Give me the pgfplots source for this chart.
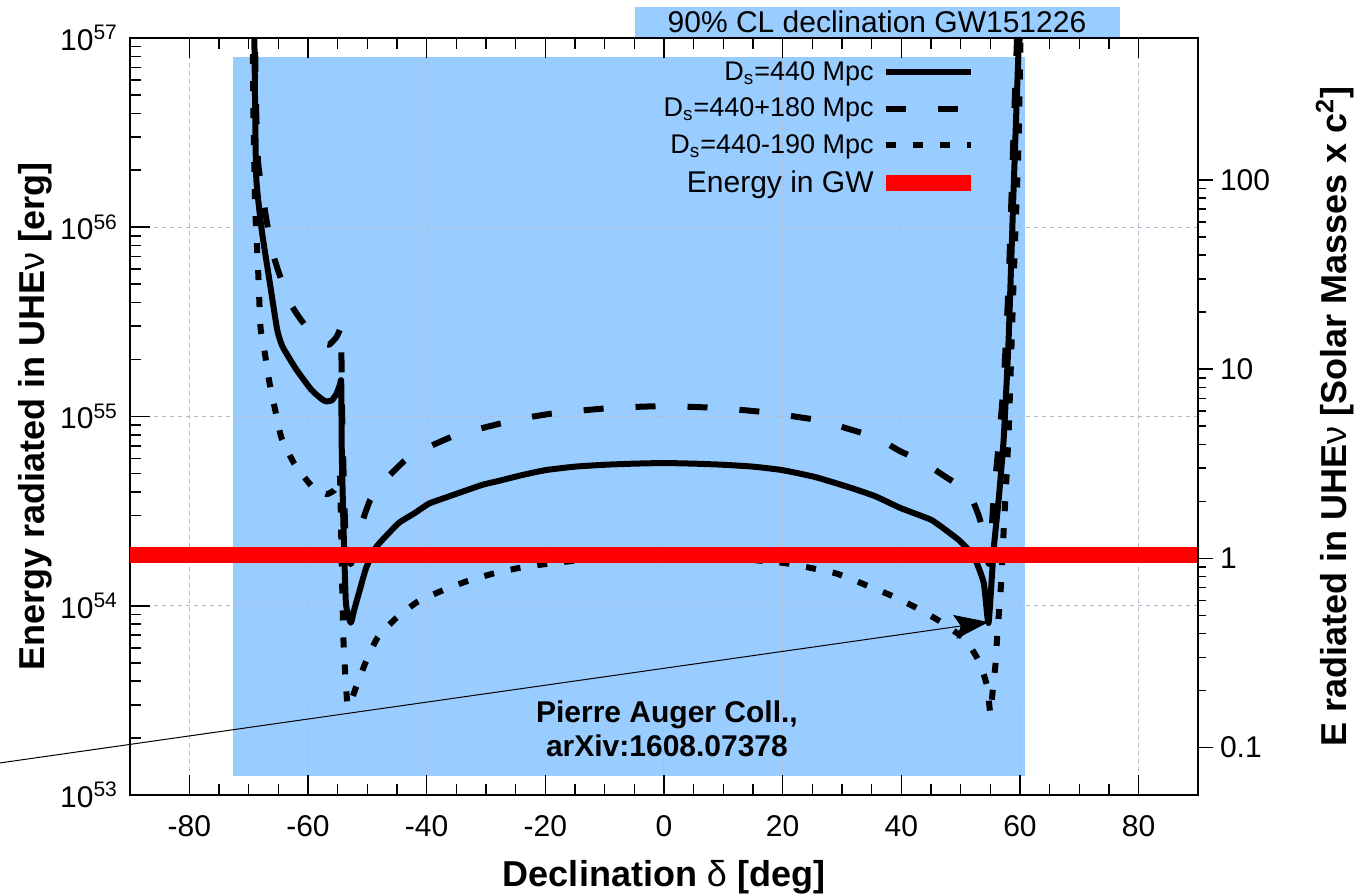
\documentclass[border=0pt]{standalone}
\usepackage{pgfplots}
\pgfplotsset{compat=1.18}
\usepackage{fontspec}
\setmainfont{Liberation Sans}
\usetikzlibrary{arrows.meta}
\definecolor{boxblue}{RGB}{153,204,255}
\definecolor{gridc}{RGB}{180,185,205}
\begin{document}
\begin{tikzpicture}
\begin{axis}[
  at={(0pt,0pt)}, anchor=south west,
  scale only axis, width=534pt, height=378.5pt,
  set layers,
  xmin=-90, xmax=90, ymode=log, ymin=1e53, ymax=1e57,
  xtick={-80,-60,-40,-20,0,20,40,60,80},
  xticklabels={-80,-60,-40,-20,0,20,40,60,80},
  minor x tick num=3,
  ytick={1e53,1e54,1e55,1e56,1e57},
  yticklabels={10\textsuperscript{53},10\textsuperscript{54},10\textsuperscript{55},10\textsuperscript{56},10\textsuperscript{57}},
  ytick pos=left, tick align=inside,
  major tick length=10pt, minor tick length=5.5pt,
  grid=major,
  major grid style={gridc, dash pattern=on 2pt off 2pt, line width=0.5pt},
  axis line style={line width=1.3pt},
  every tick/.style={black, line width=0.8pt},
  tick label style={font=\fontsize{15}{18}\selectfont},
  xticklabel style={yshift=-6.5pt},
  yticklabel style={xshift=-2.5pt},
  xlabel={Declination {\mdseries δ} [deg]},
  ylabel={Energy radiated in UHE{\mdseries ν} [erg]},
  every axis x label/.style={at={(axis description cs:0.5,0)}, anchor=center, yshift=-41pt},
  every axis y label/.style={at={(axis description cs:-0.089,0.5)}, anchor=center, rotate=90},
  label style={font=\bfseries\fontsize{18}{21}\selectfont},
  legend style={at={(axis description cs:0.795,0.975)}, anchor=north east, draw=none, fill=none,
    font=\fontsize{13.5}{16}\selectfont, row sep=3.3pt, inner sep=0pt},
  legend cell align=right, legend plot pos=right,
  legend image code/.code={\draw[#1] (0pt,0pt) -- (42.5pt,0pt);},
]
\addplot[fill=boxblue, draw=none, on layer=axis background, forget plot]
  coordinates {(-72.6,1.259e53) (60.9,1.259e53) (60.9,7.943e56) (-72.6,7.943e56)};

\addplot[black, line width=3pt, line join=round, smooth, tension=0.3] coordinates {
(-69.1,1.585e57) (-68.9,3.981e56) (-68.7,1.778e56) (-67.8,9.66e55) (-66.5,5.248e55)
(-65.2,2.884e55) (-64.3,2.344e55) (-62.0,1.778e55) (-59.4,1.380e55) (-57.6,1.230e55)
(-56.9,1.202e55) (-56.0,1.216e55) (-55.2,1.318e55) (-54.6,1.479e55) (-54.4,1.514e55)
(-54.3,6.310e54) (-54.0,2.5e54) (-53.6,1.023e54) (-52.8,8.128e53) (-52.2,9.55e53)
(-51.3,1.202e54) (-50.2,1.585e54) (-48.5,2.042e54) (-46.5,2.399e54) (-44.6,2.754e54)
(-42.0,3.090e54) (-39.6,3.467e54) (-36.5,3.758e54) (-33.3,4.074e54) (-30.5,4.365e54)
(-27.8,4.571e54) (-24.0,4.898e54) (-19.9,5.212e54) (-15.0,5.433e54) (-10,5.559e54)
(-5,5.636e54) (0,5.675e54) (5,5.636e54) (10,5.559e54) (15,5.433e54) (19.9,5.212e54)
(25.5,4.786e54) (31.1,4.236e54) (35.5,3.802e54) (39.6,3.311e54) (42.5,3.055e54)
(45.1,2.838e54) (47.5,2.512e54) (49.7,2.223e54) (51.2,1.995e54) (52.5,1.746e54)
(53.9,1.318e54) (54.7,8.110e53) (55.56,1.972e54)
(56.40,3.622e54) (57.24,7.516e54) (58.08,2.535e55) (58.92,1.574e56) (59.76,8.650e56)
(60.0,1.0e57) (60.1,1.585e57)};
\addlegendentry{D\textsubscript{s}=440 Mpc}

\addplot[black, line width=3pt, line join=round, smooth, tension=0.3, dash pattern=on 10pt off 16pt] coordinates {
(-69.0,1.585e57) (-68.8,5.012e56) (-68.4,2.188e56) (-67.0,1.096e56) (-66.0,7.413e55)
(-64.8,5.623e55) (-63.0,3.981e55) (-61.4,3.311e55) (-59.4,2.754e55) (-57.6,2.455e55)
(-56.4,2.399e55) (-55.2,2.630e55) (-54.6,2.884e55) (-54.4,2.951e55) (-54.3,1.259e55)
(-54.0,5.012e54) (-53.6,2.042e54) (-52.8,1.660e54) (-52.2,1.905e54) (-51.3,2.512e54)
(-49.5,3.631e54) (-46.5,4.786e54) (-43.6,5.888e54) (-42.0,6.166e54) (-39.6,6.918e54)
(-35.2,7.943e54) (-30.5,8.710e54) (-26.6,9.333e54) (-22.0,1.0e55) (-17.8,1.047e55)
(-8.9,1.109e55) (0,1.135e55) (9.1,1.109e55) (18.0,1.047e55) (22.0,1.0e55)
(26.9,9.462e54) (30.5,8.710e54) (35.7,7.762e54) (39.6,6.607e54) (43.6,5.754e54)
(47.5,4.786e54) (51.3,3.981e54) (53.0,3.020e54) (53.9,2.399e54) (54.8,1.660e54)
(55.56,3.715e54) (56.40,7.079e54) (57.24,1.479e55) (58.08,5.012e55) (58.92,3.162e56)
(59.5,1.0e57) (59.7,1.585e57)};
\addlegendentry{D\textsubscript{s}=440+180 Mpc}

\addplot[black, line width=3pt, line join=round, smooth, tension=0.3, dash pattern=on 5pt off 8.5pt] coordinates {
(-69.4,1.585e57) (-69.2,3.981e56) (-68.9,1.259e56) (-68.4,5.888e55) (-68.0,2.951e55)
(-67.3,2.188e55) (-66.5,1.514e55) (-65.5,1.072e55) (-64.5,7.762e54) (-62.3,5.623e54)
(-59.3,4.266e54) (-56.9,3.890e54) (-55.6,4.074e54) (-55.0,4.467e54) (-54.6,4.786e54)
(-54.3,1.585e54) (-54.0,6.310e53) (-53.3,2.951e53) (-51.9,3.715e53) (-50.3,5.012e53)
(-48.3,6.761e53) (-45.3,8.511e53) (-41.6,1.047e54) (-37.4,1.202e54) (-33.2,1.349e54)
(-28.8,1.479e54) (-24.4,1.585e54) (-20.0,1.660e54) (-10,1.799e54) (0,1.837e54)
(10,1.799e54) (20.2,1.683e54) (24.7,1.585e54) (29.1,1.479e54) (33.2,1.318e54)
(38.6,1.122e54) (43.1,9.550e53) (46.9,8.128e53) (50.8,6.607e53) (53.2,5.012e53)
(54.5,3.715e53) (55.0,2.692e53) (55.4,3.548e53) (55.9,5.012e53) (56.2,7.244e53)
(56.6,1.047e54) (56.9,1.445e54) (57.24,2.455e54) (58.08,8.128e54) (58.92,5.129e55)
(59.76,2.818e56) (60.1,1.0e57) (60.3,1.585e57)};
\addlegendentry{D\textsubscript{s}=440-190 Mpc}

\addplot[red, line width=8pt] coordinates {(-90,1.85e54) (90,1.85e54)};
\addlegendentry{\fontsize{15}{16}\selectfont Energy in GW}

\node[font=\bfseries\fontsize{15}{17}\selectfont, align=center] at (axis cs:0.5,2.239e53)
  {Pierre Auger Coll.,\\arXiv:1608.07378};

\coordinate (tbl) at (axis cs:-4.9,1e57);
\coordinate (tbr) at (axis cs:76.8,1e57);
\coordinate (ttc) at (axis cs:35.9,1e57);
\coordinate (arrA) at (axis cs:-112,1.476e53);
\coordinate (arrB) at (axis cs:54.7,8.20e53);
\end{axis}

\begin{axis}[
  at={(0pt,0pt)}, anchor=south west,
  scale only axis, width=534pt, height=378.5pt,
  xmin=-90, xmax=90, hide x axis, axis y line*=right,
  ymode=log, ymin=0.056180, ymax=561.80,
  ytick={0.1,1,10,100}, yticklabels={0.1,1,10,100},
  tick align=outside, major tick length=7.5pt, minor tick length=4pt,
  axis line style={line width=1.3pt},
  every tick/.style={black, line width=0.8pt},
  tick label style={font=\fontsize{15}{18}\selectfont},
  ylabel={E radiated in UHE{\mdseries ν} [Solar Masses x c\textsuperscript{2}]},
  every axis y label/.style={at={(axis description cs:1.128,0.5)}, anchor=center, rotate=90},
  label style={font=\bfseries\fontsize{18}{21}\selectfont},
]
\addplot[draw=none] coordinates {(-90,0.1) (90,100)};
\end{axis}

\fill[boxblue] ([yshift=0.7pt]tbl) rectangle ([yshift=15.5pt]tbr);
\node[font=\fontsize{15}{18}\selectfont] at ([yshift=8pt]ttc) {90\% CL declination GW151226};
\draw[line width=0.5pt, -{Stealth[length=17pt,width=12pt,inset=3pt]}] (arrA) -- (arrB);
\pgfresetboundingbox
\path[use as bounding box] (-65pt,-50pt) rectangle (613pt,397.5pt);
\end{tikzpicture}
\end{document}
